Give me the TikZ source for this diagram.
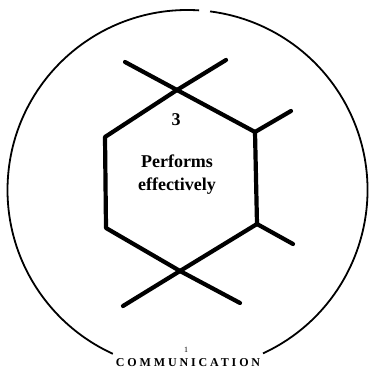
\documentclass[tikz,border=0pt]{standalone}
\usepackage{fontspec}
\setmainfont{Liberation Serif}
\usetikzlibrary{positioning}

\begin{document}
\begin{tikzpicture}[
  x=1pt, y=1pt,
  rim/.style={line width=1.8pt},
  hexline/.style={line width=4.2pt, line cap=round, line join=round},
  lbl/.style={font=\fontsize{18}{23}\selectfont\bfseries, align=center, inner sep=0pt},
  caption/.style={font=\fontsize{12}{14}\selectfont\bfseries\addfontfeature{LetterSpace=24}, inner sep=0pt},
  idx/.style={font=\fontsize{8}{9}\selectfont, inner sep=0pt}
]
\useasboundingbox (0,0) rectangle (369,371);
% outer ring, open at top and bottom
\coordinate (ctr) at (187.5,181);
\draw[rim] (ctr) ++(86.3:180pt) arc[start angle=86.3, end angle=245.5, radius=180pt];
\draw[rim] (ctr) ++(294.8:180pt) arc[start angle=294.8, end angle=442.8, radius=180pt];
% hexagon corners and spurs
\coordinate (top) at (177,281);
\coordinate (ur) at (255,239);
\coordinate (lr) at (257,147);
\coordinate (bot) at (180,100);
\coordinate (ll) at (106,143);
\coordinate (ul) at (105,234);
\coordinate (tlend) at (125,309);
\coordinate (trend) at (226,311);
\coordinate (urend) at (291,260);
\coordinate (lrend) at (293,127);
\coordinate (blend) at (123,65);
\coordinate (brend) at (240,68);
\draw[hexline] (tlend) -- (top) -- (ur) -- (lr) -- (bot) -- (blend);
\draw[hexline] (trend) -- (top) -- (ul) -- (ll) -- (bot) -- (brend);
\draw[hexline] (ur) -- (urend);
\draw[hexline] (lr) -- (lrend);
% labels
\node[lbl] (num) at (176,251) {3};
\node[lbl] (perf) at (177,196.5) {Performs\\effectively};
\node[idx] (one) at (186,21) {1};
\node[caption] (comm) at (188,8) {COMMUNICATION};
\end{tikzpicture}
\end{document}
